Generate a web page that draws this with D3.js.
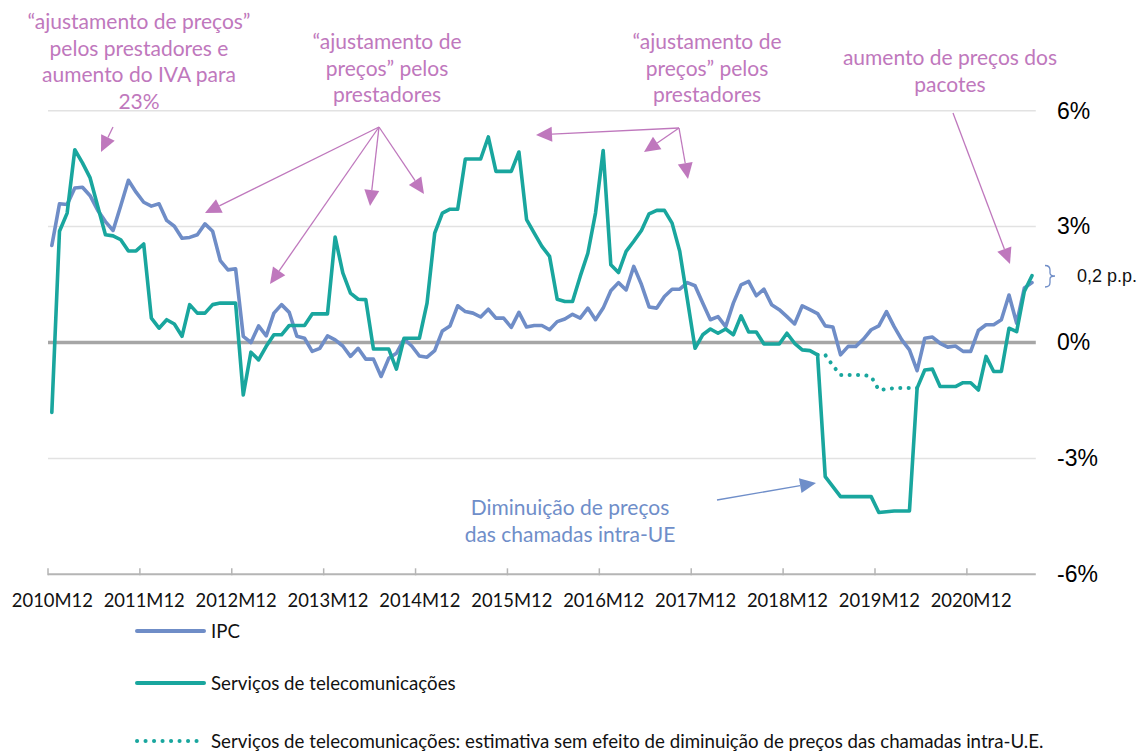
<!DOCTYPE html>
<html>
<head>
<meta charset="utf-8">
<script src="https://cdn.jsdelivr.net/npm/d3@7"></script>
<style>
  html, body { margin: 0; padding: 0; background: #ffffff; }
  svg { display: block; }
</style>
</head>
<body>
<svg id="chart" width="1142" height="751"></svg>
<script>
// ---------------- DATA ----------------
const firstMonth = "2010M12";
const nMonths = 129; // 2010M12 .. 2021M08
const tickLabels = ["2010M12","2011M12","2012M12","2013M12","2014M12","2015M12","2016M12","2017M12","2018M12","2019M12","2020M12"];
const yTicks = [-6, -3, 0, 3, 6];

const ipc = [
  2.51, 3.59, 3.57, 4.00, 4.02, 3.80, 3.42, 3.13, 2.90, 3.54,
  4.20, 3.89, 3.63, 3.53, 3.59, 3.16, 3.01, 2.70, 2.72, 2.79,
  3.07, 2.88, 2.12, 1.88, 1.91, 0.16, 0.00, 0.43, 0.17, 0.76,
  0.98, 0.78, 0.16, 0.11, -0.23, -0.15, 0.17, 0.07, -0.09, -0.36,
  -0.15, -0.43, -0.43, -0.88, -0.41, -0.28, 0.09, -0.09, -0.35, -0.38,
  -0.21, 0.30, 0.43, 0.95, 0.80, 0.76, 0.66, 0.86, 0.63, 0.63,
  0.39, 0.78, 0.40, 0.44, 0.44, 0.33, 0.54, 0.61, 0.73, 0.63,
  0.89, 0.59, 0.89, 1.34, 1.55, 1.36, 1.97, 1.50, 0.92, 0.89,
  1.19, 1.38, 1.38, 1.55, 1.47, 1.02, 0.59, 0.67, 0.41, 1.02,
  1.49, 1.58, 1.21, 1.38, 0.98, 0.85, 0.67, 0.48, 0.95, 0.85,
  0.75, 0.43, 0.40, -0.32, -0.10, -0.10, 0.09, 0.33, 0.43, 0.80,
  0.41, 0.07, -0.19, -0.73, 0.11, 0.14, -0.02, -0.12, -0.09, -0.23,
  -0.23, 0.31, 0.46, 0.46, 0.59, 1.23, 0.50, 1.41, 1.55
];

const telecom = [
  -1.81, 2.88, 3.35, 4.99, 4.65, 4.26, 3.52, 2.79, 2.76, 2.66,
  2.37, 2.37, 2.55, 0.63, 0.37, 0.59, 0.48, 0.16, 0.98, 0.76,
  0.76, 0.98, 1.02, 1.02, 1.02, -1.36, -0.25, -0.45, -0.10, 0.20,
  0.20, 0.44, 0.44, 0.44, 0.74, 0.74, 0.74, 2.73, 1.80, 1.28,
  1.12, 1.11, -0.17, -0.17, -0.17, -0.69, 0.11, 0.11, 0.11, 1.02,
  2.83, 3.35, 3.45, 3.45, 4.75, 4.75, 4.75, 5.32, 4.43, 4.43,
  4.43, 4.93, 3.18, 2.83, 2.49, 2.23, 1.12, 1.06, 1.06, 1.71,
  2.31, 3.35, 4.97, 2.01, 1.81, 2.36, 2.62, 2.90, 3.33, 3.42,
  3.42, 3.09, 2.36, 1.11, -0.15, 0.20, 0.35, 0.24, 0.35, 0.20,
  0.69, 0.27, 0.27, -0.04, -0.04, -0.04, 0.24, -0.02, -0.19, -0.21,
  -0.32, -3.47, -3.73, -3.99, -3.99, -3.99, -3.99, -3.99, -4.40, -4.38,
  -4.36, -4.36, -4.36, -1.18, -0.71, -0.69, -1.14, -1.14, -1.14, -1.04,
  -1.04, -1.23, -0.36, -0.75, -0.75, 0.37, 0.28, 1.32, 1.73
];

// estimate without the intra-EU call price cut effect (from 2019M04 to 2020M05)
const estimateStart = "2019M04";
const estimate = [-0.32, -0.32, -0.60, -0.84, -0.84, -0.84, -0.84, -0.88, -1.23, -1.21, -1.18, -1.18, -1.18, -1.18];

const legendLabels = [
  "IPC",
  "Serviços de telecomunicações",
  "Serviços de telecomunicações: estimativa sem efeito de diminuição de preços das chamadas intra-U.E."
];

// ---------------- BUILD CATEGORIES ----------------
const startYear = +firstMonth.slice(0, 4), startM = +firstMonth.slice(5);
const categories = d3.range(nMonths).map(i => {
  const k = (startM - 1) + i;
  const yr = startYear + Math.floor(k / 12);
  const m = (k % 12) + 1;
  return yr + "M" + String(m).padStart(2, "0");
});

const colIPC = "#6f8dc7";
const colTel = "#19a69e";
const colPink = "#bf78bd";
const colBlueNote = "#6f8ec9";

const svg = d3.select("#chart");

const x = d3.scalePoint().domain(categories).range([48, 1035.8]).padding(0.5);
const step = x.step();
const y = d3.scaleLinear().domain([-6, 6]).range([574.3, 110.7]);

// ---------------- GRID ----------------
const gGrid = svg.append("g");
gGrid.selectAll("line").data(yTicks.filter(d => d !== 0 && d !== -6)).enter().append("line")
  .attr("x1", 48).attr("x2", 1035.8)
  .attr("y1", d => y(d)).attr("y2", d => y(d))
  .attr("stroke", "#e2e2e2").attr("stroke-width", 1.5);

// bottom axis line
svg.append("line")
  .attr("x1", 48).attr("x2", 1035.8)
  .attr("y1", y(-6)).attr("y2", y(-6))
  .attr("stroke", "#b5b5b5").attr("stroke-width", 2);

// tick marks on category boundaries
svg.append("g").selectAll("line").data(tickLabels).enter().append("line")
  .attr("x1", d => x(d) - step / 2).attr("x2", d => x(d) - step / 2)
  .attr("y1", y(-6) - 6).attr("y2", y(-6) + 1)
  .attr("stroke", "#b5b5b5").attr("stroke-width", 1.5);

// x labels through axis
const xAxis = d3.axisBottom(x).tickValues(tickLabels).tickSize(0).tickPadding(0);
const gx = svg.append("g").attr("transform", `translate(0, ${y(-6) + 26})`).call(xAxis);
gx.select(".domain").remove();
gx.selectAll("text")
  .attr("font-family", "Lato, 'Open Sans', sans-serif")
  .attr("font-size", 18.4).attr("fill", "#111").attr("dy", "0.35em");

// y labels through axis (right side)
const yAxis = d3.axisRight(y).tickValues(yTicks).tickSize(0).tickPadding(0).tickFormat(d => d + "%");
const gy = svg.append("g").attr("transform", "translate(1057, 0)").call(yAxis);
gy.select(".domain").remove();
gy.selectAll("text")
  .attr("font-family", "'Liberation Sans', Arial, sans-serif")
  .attr("font-size", 23).attr("fill", "#000").attr("text-anchor", "start");

// zero line
svg.append("line")
  .attr("x1", 48).attr("x2", 1035.8)
  .attr("y1", y(0)).attr("y2", y(0))
  .attr("stroke", "#a6a6a6").attr("stroke-width", 3.5);

// ---------------- LINES ----------------
const line = d3.line().x(d => x(d[0])).y(d => y(d[1]));
const ipcData = categories.map((c, i) => [c, ipc[i]]);
const telData = categories.map((c, i) => [c, telecom[i]]);
const estStartIdx = categories.indexOf(estimateStart);
const estData = estimate.map((v, j) => [categories[estStartIdx + j], v]);

svg.append("path").datum(estData).attr("d", line)
  .attr("fill", "none").attr("stroke", colTel).attr("stroke-width", 4)
  .attr("stroke-linecap", "round").attr("stroke-dasharray", "0.1 8.3");

svg.append("path").datum(ipcData).attr("d", line)
  .attr("fill", "none").attr("stroke", colIPC).attr("stroke-width", 3.6)
  .attr("stroke-linejoin", "round").attr("stroke-linecap", "round");

svg.append("path").datum(telData).attr("d", line)
  .attr("fill", "none").attr("stroke", colTel).attr("stroke-width", 3.6)
  .attr("stroke-linejoin", "round").attr("stroke-linecap", "round");

// ---------------- ANNOTATIONS ----------------
function arrow(x1, y1, x2, y2, color, hl = 16, hw = 7.5) {
  const dx = x2 - x1, dy = y2 - y1, L = Math.hypot(dx, dy);
  const ux = dx / L, uy = dy / L;
  const bx = x2 - ux * hl, by = y2 - uy * hl;
  svg.append("line").attr("x1", x1).attr("y1", y1).attr("x2", bx).attr("y2", by)
    .attr("stroke", color).attr("stroke-width", 1.3);
  svg.append("path")
    .attr("d", `M${x2},${y2}L${bx - uy * hw},${by + ux * hw}L${bx + uy * hw},${by - ux * hw}Z`)
    .attr("fill", color);
}

const noteFont = "Lato, 'Open Sans', sans-serif";
function note(lines, cx, y0, color, lh = 26.5, size = 21) {
  const t = svg.append("text").attr("font-family", noteFont).attr("font-size", size)
    .attr("fill", color).attr("text-anchor", "middle");
  lines.forEach((s, i) => t.append("tspan").attr("x", cx).attr("y", y0 + i * lh).text(s));
}

note(["\u201Cajustamento de preços\u201D", "pelos prestadores e", "aumento do IVA para", "23%"], 139, 29, colPink);
note(["\u201Cajustamento de", "preços\u201D pelos", "prestadores"], 387, 49, colPink);
note(["\u201Cajustamento de", "preços\u201D pelos", "prestadores"], 707, 49, colPink);
note(["aumento de preços dos", "pacotes"], 950, 65, colPink);
note(["Diminuição de preços", "das chamadas intra-UE"], 570, 515, colBlueNote);

arrow(113, 127, 101, 152, colPink);
arrow(379, 127, 205, 213, colPink);
arrow(379, 127, 270, 284, colPink);
arrow(379, 127, 370, 206, colPink);
arrow(379, 127, 424, 194, colPink);
arrow(679, 128, 536, 135, colPink);
arrow(679, 128, 644, 152, colPink);
arrow(679, 128, 688, 179, colPink);
arrow(953, 113, 1010, 264, colPink);
arrow(717, 500, 816, 483, colBlueNote);

// bracket and 0,2 p.p.
svg.append("path")
  .attr("d", "M1045,265.5 Q1050,265.5 1050,270 L1050,273 Q1050,276 1055,276 Q1050,276 1050,279 L1050,282.5 Q1050,287 1045,287")
  .attr("fill", "none").attr("stroke", colIPC).attr("stroke-width", 1.3);
svg.append("text").attr("x", 1077).attr("y", 282)
  .attr("font-family", "'Liberation Sans', Arial, sans-serif").attr("font-size", 18)
  .attr("fill", "#111").text("0,2 p.p.");

// ---------------- LEGEND ----------------
const legendY = [631, 683, 741];
const leg = svg.append("g");
legendLabels.forEach((lab, i) => {
  const yy = legendY[i];
  const l = leg.append("line").attr("x1", 137).attr("x2", 204).attr("y1", yy).attr("y2", yy)
    .attr("stroke", i === 0 ? colIPC : colTel).attr("stroke-width", 4)
    .attr("stroke-linecap", "round");
  if (i === 2) l.attr("stroke-dasharray", "0.1 8.4").attr("stroke-width", 4);
  leg.append("text").attr("x", 211).attr("y", yy).attr("dy", "0.35em")
    .attr("font-family", "Lato, 'Open Sans', sans-serif").attr("font-size", 18.7)
    .attr("fill", "#111").text(lab);
});
</script>
</body>
</html>
